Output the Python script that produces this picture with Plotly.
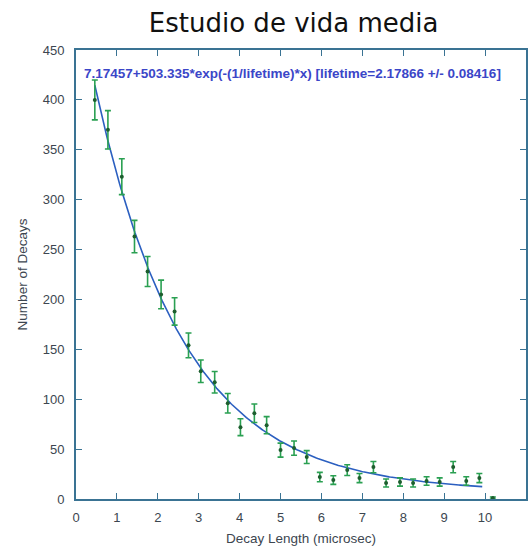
import numpy as np
import plotly.graph_objects as go

# Data
decay_length = [0.46, 0.78, 1.12, 1.43, 1.75, 2.08, 2.41, 2.75, 3.05, 3.39,
                3.71, 4.02, 4.36, 4.66, 5.00, 5.33, 5.64, 5.96, 6.29, 6.63,
                6.93, 7.27, 7.58, 7.92, 8.24, 8.57, 8.89, 9.22, 9.54, 9.86,
                10.19]
n_decays = [400, 370, 323, 263, 228, 205, 188, 154, 128, 117,
            96, 72, 86, 74, 49, 51, 42, 22, 19, 29,
            21, 32, 16, 17, 16, 18, 17, 32, 18, 21,
            1]
n_errors = [float(np.sqrt(v)) for v in n_decays]

# Fit parameters shown in the chart
fit_const = 7.17457
fit_amp = 503.335
fit_lifetime = 2.17866
fit_lifetime_err = 0.08416
fit_x_start = 0.46
fit_x_end = 9.93

x_ticks = list(range(0, 12))
y_ticks = list(range(0, 451, 50))

fit_x = np.linspace(fit_x_start, fit_x_end, 300)
fit_y = fit_const + fit_amp * np.exp(-(1.0 / fit_lifetime) * fit_x)

axis_color = "#3a7393"
text_color = "#3c4650"

fig = go.Figure()
fig.add_trace(go.Scatter(
    x=fit_x, y=fit_y, mode="lines",
    line=dict(color="#2b5fc0", width=1.6),
    showlegend=False, hoverinfo="skip",
))
fig.add_trace(go.Scatter(
    x=decay_length, y=n_decays, mode="markers",
    marker=dict(color="#1d5e2e", size=4),
    error_y=dict(type="data", array=n_errors, visible=True,
                 color="#2aa052", thickness=1.6, width=3),
    showlegend=False,
))

label = (f"{fit_const}+{fit_amp}*exp(-(1/lifetime)*x) "
         f"[lifetime={fit_lifetime} +/- {fit_lifetime_err}]")
fig.add_annotation(
    x=0, y=1, xref="paper", yref="paper", xanchor="left", yanchor="top",
    xshift=6, yshift=-14, showarrow=False, text="<b>" + label + "</b>",
    font=dict(family="Liberation Sans, Arial", size=13.5, color="#3b46c8"),
)

fig.update_layout(
    width=531, height=554,
    margin=dict(l=76, r=3, t=50, b=55),
    paper_bgcolor="white", plot_bgcolor="white",
    title=dict(text="Estudio de vida media", x=0.553, xanchor="center",
               y=0.958, yanchor="middle",
               font=dict(family="DejaVu Sans", size=26, color="#111111")),
    font=dict(family="Liberation Sans, Arial", color=text_color),
)
fig.update_xaxes(
    range=[0, 11], tickvals=x_ticks, ticks="inside", ticklen=6,
    tickcolor=axis_color, tickwidth=1.2,
    showline=True, linecolor=axis_color, linewidth=1.8, mirror="ticks",
    showgrid=False, zeroline=False, ticklabelstandoff=5,
    tickfont=dict(size=13, color=text_color),
    title=dict(text="Decay Length (microsec)", font=dict(size=13.5, color=text_color),
               standoff=10),
)
fig.update_yaxes(
    range=[0, 450], tickvals=y_ticks, ticks="inside", ticklen=6,
    tickcolor=axis_color, tickwidth=1.2,
    showline=True, linecolor=axis_color, linewidth=1.8, mirror="ticks",
    showgrid=False, zeroline=False, ticklabelstandoff=7,
    tickfont=dict(size=13, color=text_color),
    title=dict(text="Number of Decays", font=dict(size=13.5, color=text_color),
               standoff=12),
)

fig.write_html("out.html")
